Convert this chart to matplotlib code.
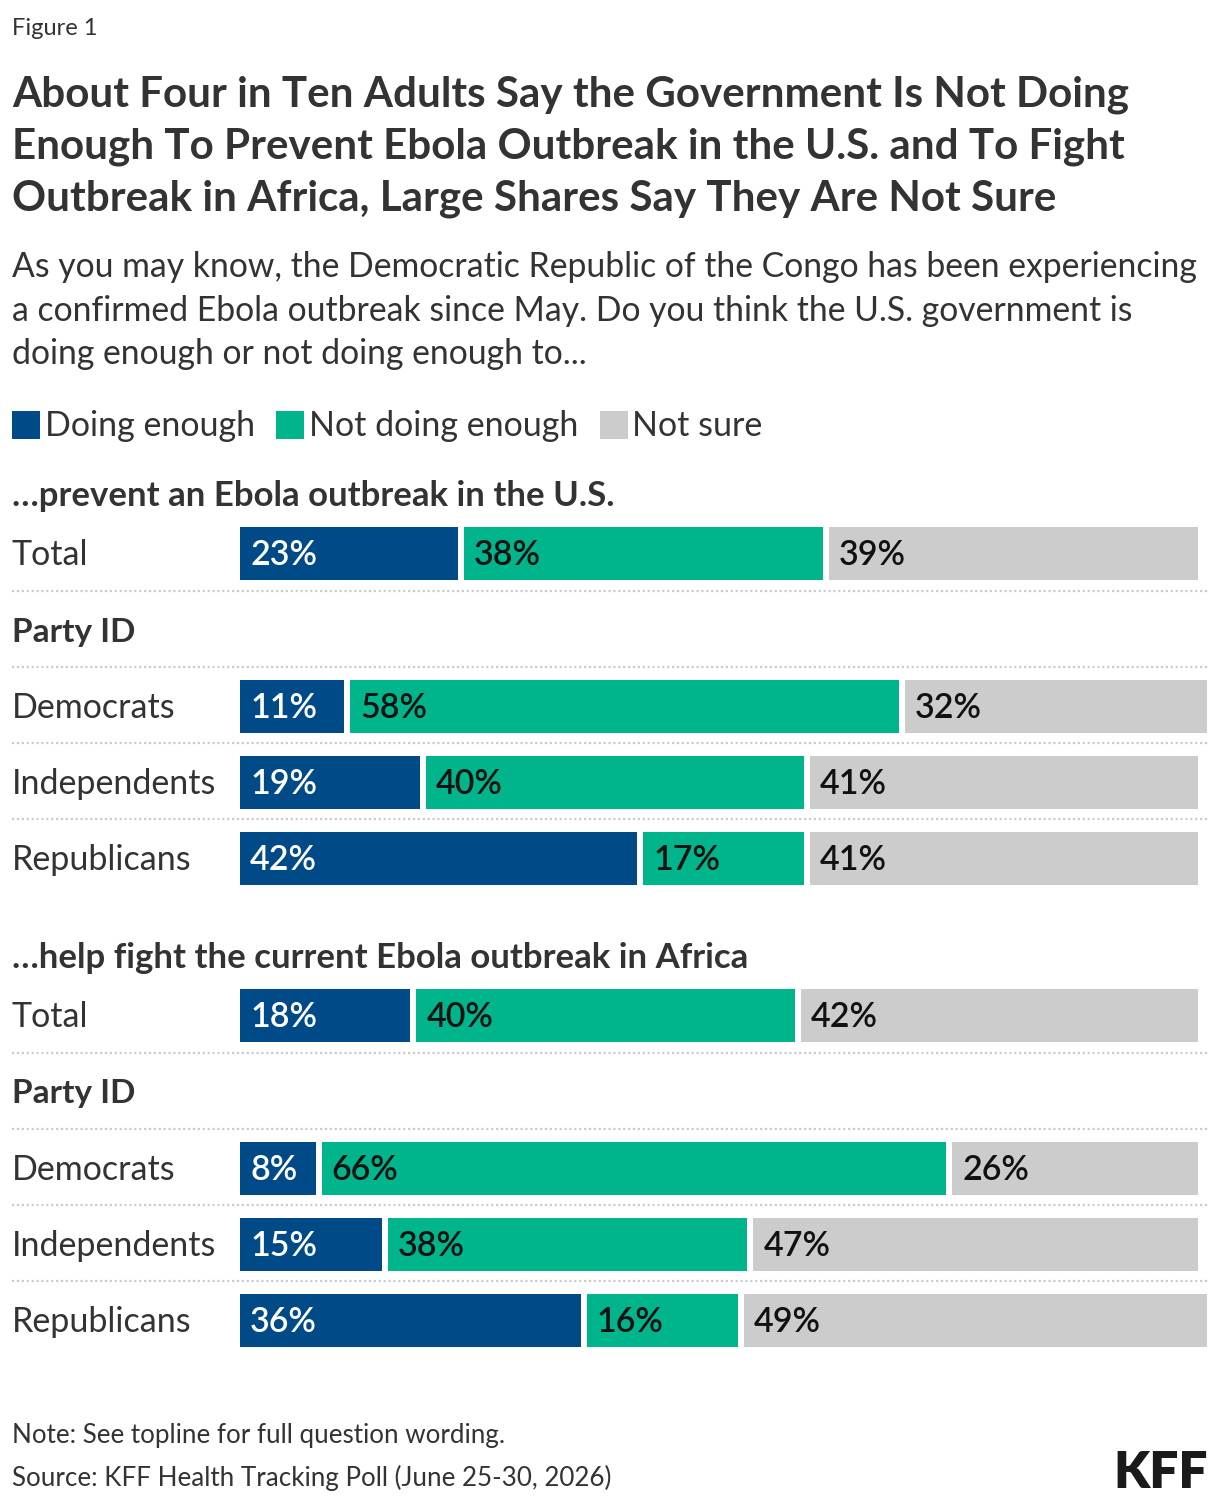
import matplotlib
matplotlib.use("Agg")
import matplotlib.pyplot as plt
from matplotlib.patches import Rectangle

plt.rcParams['font.family'] = ['Lato', 'DejaVu Sans']

# data
series = ["Doing enough", "Not doing enough", "Not sure"]
colors = ["#004b87", "#00b48c", "#cccccc"]
value_colors = ["white", "#111111", "#111111"]

groups = ["\u2026prevent an Ebola outbreak in the U.S.",
          "\u2026help fight the current Ebola outbreak in Africa"]
rows = ["Total", "Democrats", "Independents", "Republicans"]
doing = [[23, 11, 19, 42], [18, 8, 15, 36]]
not_doing = [[38, 58, 40, 17], [40, 66, 38, 16]]
not_sure = [[39, 32, 41, 41], [42, 26, 47, 49]]

title = ("About Four in Ten Adults Say the Government Is Not Doing\n"
         "Enough To Prevent Ebola Outbreak in the U.S. and To Fight\n"
         "Outbreak in Africa, Large Shares Say They Are Not Sure")
subtitle = ("As you may know, the Democratic Republic of the Congo has been experiencing\n"
            "a confirmed Ebola outbreak since May. Do you think the U.S. government is\n"
            "doing enough or not doing enough to...")
note = "Note: See topline for full question wording."
source = "Source: KFF Health Tracking Poll (June 25-30, 2026)"

W, H = 1220, 1506
TXT = "#333333"
fig = plt.figure(figsize=(W / 100, H / 100), dpi=100)
bg = fig.add_axes([0, 0, 1, 1])
bg.set_xlim(0, W)
bg.set_ylim(H, 0)
bg.axis('off')

# bar axes: x in percent, y in pixels from top
px_per_pct = 9.46
gap = 6 / px_per_pct
x0 = 240
ax = fig.add_axes([x0 / W, 0, (W - x0) / W, 1])
ax.set_xlim(0, (W - x0) / px_per_pct)
ax.set_ylim(H, 0)
ax.axis('off')
ax.patch.set_alpha(0)

bg.text(12, 28, "Figure 1", fontsize=17, color=TXT, va='center')
bg.text(12, 75, title, fontsize=30.3, fontweight='bold', color=TXT, va='top',
        linespacing=1.45)
bg.text(12, 251, subtitle, fontsize=24.3, color=TXT, va='top', linespacing=1.45)

# legend
fig.canvas.draw()
r = fig.canvas.get_renderer()
lx = 12
for name, c in zip(series, colors):
    bg.add_patch(Rectangle((lx, 411), 28, 28, color=c, lw=0))
    t = bg.text(lx + 33, 426, name, fontsize=24.5, color=TXT, va='center')
    bb = t.get_window_extent(r)
    lx = bb.x1 + 21

def dotted(y):
    bg.plot([12, 1208], [y, y], color="#cccccc", lw=1.6, ls=(0, (1, 1.2)))

for g in range(2):
    top = 495 + g * 462
    bg.text(12, top + 1, groups[g], fontsize=25, fontweight='bold', color=TXT, va='center')
    ys = [top + 58, top + 211, top + 287, top + 363]
    bg.text(12, top + 137, "Party ID", fontsize=24, fontweight='bold', color=TXT, va='center')
    dotted(ys[0] + 38)
    dotted(top + 172)
    dotted(ys[1] + 37)
    dotted(ys[2] + 37)
    for i, name in enumerate(rows):
        y = ys[i]
        bg.text(12, y + 2, name, fontsize=24.5, color=TXT, va='center')
        vals = [doing[g][i], not_doing[g][i], not_sure[g][i]]
        left = 0
        for k, v in enumerate(vals):
            ax.barh(y, v, left=left, height=53, color=colors[k], lw=0)
            ax.text(left + 10 / px_per_pct, y + 2, f"{v}%", fontsize=24.5, fontweight='semibold',
                    color=value_colors[k], va='center')
            left += v + gap

bg.text(12, 1436, note, fontsize=18.7, color=TXT, va='center')
bg.text(12, 1478, source, fontsize=18.7, color=TXT, va='center')
bg.text(1208, 1473, "KFF", fontsize=37, fontweight='heavy', color="#1a1a1a",
        va='center', ha='right')

fig.savefig("out.png", dpi=100)
